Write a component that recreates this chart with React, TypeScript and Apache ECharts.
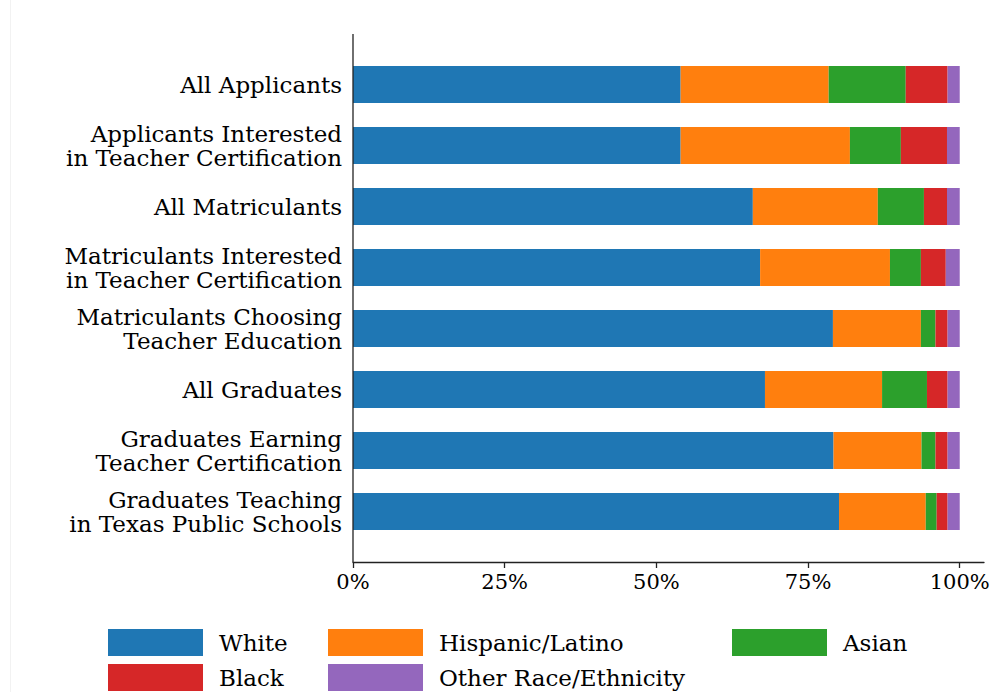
import React, { useEffect, useRef } from "react";
import * as echarts from "echarts";

const categories = [
  "All Applicants",
  "Applicants Interested\nin Teacher Certification",
  "All Matriculants",
  "Matriculants Interested\nin Teacher Certification",
  "Matriculants Choosing\nTeacher Education",
  "All Graduates",
  "Graduates Earning\nTeacher Certification",
  "Graduates Teaching\nin Texas Public Schools",
];

const white = [54.0, 54.0, 65.9, 67.1, 79.1, 67.9, 79.2, 80.1];
const hispanic = [24.4, 27.9, 20.6, 21.4, 14.5, 19.3, 14.5, 14.3];
const asian = [12.7, 8.4, 7.6, 5.1, 2.4, 7.4, 2.3, 1.8];
const black = [6.9, 7.6, 3.8, 4.1, 2.0, 3.4, 2.0, 1.8];
const other = [2.0, 2.1, 2.1, 2.3, 2.0, 2.0, 2.0, 2.0];

const tickValues = [0, 25, 50, 75, 100];

const seriesDefs = [
  { name: "White", data: white, color: "#1f77b4" },
  { name: "Hispanic/Latino", data: hispanic, color: "#ff7f0e" },
  { name: "Asian", data: asian, color: "#2ca02c" },
  { name: "Black", data: black, color: "#d62728" },
  { name: "Other Race/Ethnicity", data: other, color: "#9467bd" },
];

const FONT = "DejaVu Serif";

export default function App() {
  const ref = useRef<HTMLDivElement>(null);
  useEffect(() => {
    if (!ref.current) return;
    const chart = echarts.init(ref.current, null, { renderer: "svg" });
    const legendCommon = {
      orient: "vertical",
      top: 629,
      height: 80,
      padding: 0,
      itemWidth: 95,
      itemHeight: 27,
      itemGap: 8,
      icon: "rect",
      selectedMode: false,
      textStyle: { fontFamily: FONT, fontSize: 23, color: "#000", padding: [0, 0, 0, 11] },
    };
    chart.setOption({
      animation: false,
      backgroundColor: "#fff",
      textStyle: { fontFamily: FONT },
      grid: { left: 353, right: 11, top: 54, bottom: 150, containLabel: false },
      legend: [
        { ...legendCommon, left: 108, data: ["White", "Black"] },
        { ...legendCommon, left: 328, data: ["Hispanic/Latino", "Other Race/Ethnicity"] },
        { ...legendCommon, left: 732, data: ["Asian"] },
      ],
      xAxis: {
        type: "value",
        min: 0,
        max: 104,
        offset: 20,
        splitLine: { show: false },
        axisLine: { show: true, lineStyle: { color: "#222", width: 1.3 } },
        axisTick: {
          show: true,
          length: 6,
          customValues: tickValues,
          lineStyle: { color: "#222", width: 1.3 },
        },
        axisLabel: {
          customValues: tickValues,
          formatter: (v: number) => `${v}%`,
          fontFamily: FONT,
          fontSize: 21,
          color: "#000",
          margin: 9,
        },
      },
      yAxis: {
        type: "category",
        data: categories,
        inverse: true,
        axisLine: { show: false },
        axisTick: { show: false },
        axisLabel: {
          fontFamily: FONT,
          fontSize: 23,
          lineHeight: 24,
          color: "#000",
          align: "right",
          margin: 11,
        },
      },
      series: seriesDefs.map((s) => ({
        name: s.name,
        type: "bar",
        stack: "total",
        data: s.data,
        barWidth: 37,
        itemStyle: { color: s.color },
      })),
      graphic: [
        {
          type: "line",
          shape: { x1: 353, y1: 34, x2: 353, y2: 562 },
          style: { stroke: "#222", lineWidth: 1.3 },
          z: 100,
        },
        {
          type: "line",
          shape: { x1: 10.5, y1: 0, x2: 10.5, y2: 692 },
          style: { stroke: "#f2f2f2", lineWidth: 1 },
        },
      ],
    });
    return () => chart.dispose();
  }, []);
  return (
    <div
      ref={ref}
      style={{ position: "absolute", left: 0, top: 0, width: 995, height: 692 }}
    />
  );
}
